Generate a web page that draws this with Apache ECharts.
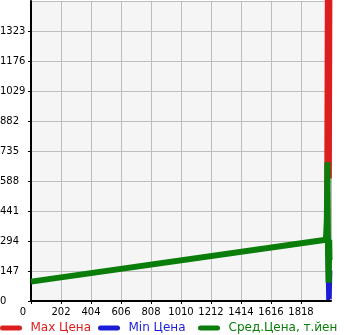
<!DOCTYPE html>
<html><head><meta charset="utf-8">
<script src="https://cdn.jsdelivr.net/npm/echarts@6/dist/echarts.min.js"></script>
<style>html,body{margin:0;padding:0;background:#fff}#c{width:345px;height:335px}</style>
</head><body><div id="c"></div>
<script>
var seriesNames = ['Max Цена', 'Min Цена', 'Сред.Цена, т.йен'];
var maxYears = [1986, 1988, 1992, 1996, 2000, 2004, 2008, 2012, 2016, 2020];
var maxVals  = [300, 580, 1500, 700, 1600, 900, 1700, 600, 1500, 1600];
var minYears = [1996, 2001, 2006, 2011, 2016];
var minVals  = [250, 5, 200, 10, 150];
var avgYears = [0, 1986, 1992, 1996, 2000, 2004, 2008, 2010];
var avgVals  = [95, 300, 400, 680, 250, 90, 300, 200];
var xMax = 2020, xStep = 202, yMax = 1470, yStep = 147;

function pairs(xs, ys){ return xs.map(function(x,i){return [x, ys[i]];}); }
var colors = ['#dd1e1e', '#1c1cd6', '#0a7d0a'];
var capsule = 'path://M2.5,0H19.5A2.5,2.5,0,0,1,19.5,5H2.5A2.5,2.5,0,0,1,2.5,0Z';
var font = 'DejaVu Sans';
var legendLefts = [0, 98, 198];
var chart = echarts.init(document.getElementById('c'));
chart.setOption({
  animation: false,
  grid: {left: 31, right: 14, top: 1, bottom: 34, show: true, backgroundColor: '#f5f5f5', borderWidth: 0,
    containLabel: false, outerBoundsMode: 'none'},
  xAxis: {
    type: 'value', min: 0, max: xMax, interval: xStep,
    axisLine: {show: true, onZero: false, lineStyle: {color: '#000', width: 2}},
    axisTick: {show: true, length: 3, lineStyle: {color: '#000'}},
    splitLine: {show: true, lineStyle: {color: '#bdbdbd', width: 1}},
    axisLabel: {showMaxLabel: false, color: '#000', fontFamily: font, fontSize: 10, margin: 6,
      formatter: function(v){ return v === 0 ? '{a|0}' : String(v); },
      rich: {a: {padding: [0, 16, 0, 0], fontFamily: font, fontSize: 10, color: '#000'}}}
  },
  yAxis: {
    type: 'value', min: 0, max: yMax, interval: yStep,
    axisLine: {show: true, lineStyle: {color: '#000', width: 2}},
    axisTick: {show: true, length: 3, lineStyle: {color: '#000'}},
    splitLine: {show: true, lineStyle: {color: '#bdbdbd', width: 1}},
    axisLabel: {showMaxLabel: false, color: '#000', fontFamily: font, fontSize: 10, margin: 31, align: 'left',
      padding: [0, 0, 7, 0], formatter: function(v){ return String(v); }}
  },
  legend: seriesNames.map(function(n, i){
    return {
      bottom: 1, left: legendLefts[i], padding: 0, itemWidth: 23, itemHeight: 5, icon: capsule,
      textStyle: {fontFamily: font, fontSize: 12, padding: [0, 0, 0, 3], color: colors[i]},
      data: [n]
    };
  }),
  series: [
    {name: seriesNames[0], type: 'line', data: pairs(maxYears, maxVals), showSymbol: false, symbol: 'none',
      lineStyle: {color: colors[0], width: 4}, itemStyle: {color: colors[0]}},
    {name: seriesNames[1], type: 'line', data: pairs(minYears, minVals), showSymbol: false, symbol: 'none',
      lineStyle: {color: colors[1], width: 4}, itemStyle: {color: colors[1]}},
    {name: seriesNames[2], type: 'line', data: pairs(avgYears, avgVals), showSymbol: false, symbol: 'none',
      lineStyle: {color: colors[2], width: 6}, itemStyle: {color: colors[2]}}
  ]
});
</script></body></html>
